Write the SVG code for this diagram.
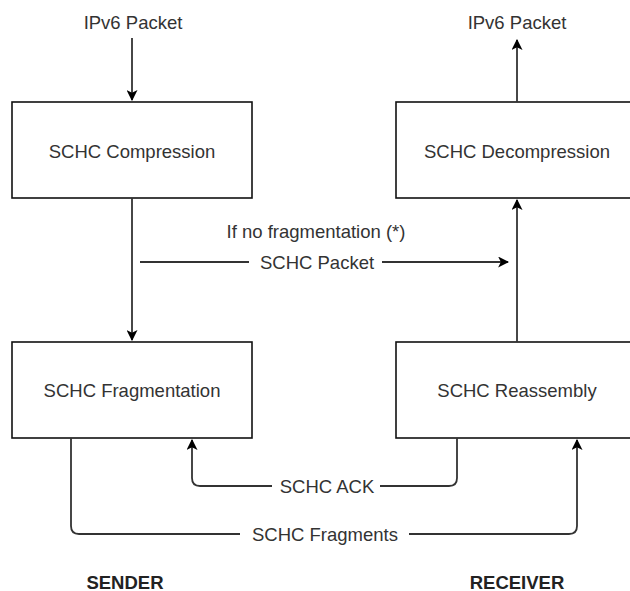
<svg xmlns="http://www.w3.org/2000/svg" width="630" height="591" viewBox="0 0 630 591">
<style>
.box{fill:#fff;stroke:#111;stroke-width:1.6}
.t{font-family:"Liberation Sans",Arial,sans-serif;font-size:18.5px;fill:#333;text-anchor:middle;dominant-baseline:central}
.b{font-weight:bold;fill:#222}
.c{fill:none;stroke:#333;stroke-width:1.8}
.bg{fill:#fff}
</style>
<defs>
<marker id="ah" viewBox="0 0 10 10" refX="9" refY="5" markerWidth="11" markerHeight="11" markerUnits="userSpaceOnUse" orient="auto">
<path d="M0,0 L10,5 L0,10 L2.5,5 Z" fill="#000"/>
</marker>
</defs>
<rect width="630" height="591" fill="#fff"/>
<g id="nodes">
<g id="compression"><rect class="box" x="12" y="102" width="240" height="96"/><text class="t" x="132" y="151">SCHC Compression</text></g>
<g id="decompression"><rect class="box" x="396" y="102" width="240" height="96"/><text class="t" x="517" y="151">SCHC Decompression</text></g>
<g id="fragmentation"><rect class="box" x="12" y="342" width="240" height="96"/><text class="t" x="132" y="390">SCHC Fragmentation</text></g>
<g id="reassembly"><rect class="box" x="396" y="342" width="240" height="96"/><text class="t" x="517" y="390">SCHC Reassembly</text></g>
</g>
<g id="connectors">
<path class="c" d="M132,38 V100" marker-end="url(#ah)"/>
<path class="c" d="M132,198 V340" marker-end="url(#ah)"/>
<path class="c" d="M517,342 V200" marker-end="url(#ah)"/>
<path class="c" d="M517,102 V40" marker-end="url(#ah)"/>
<path class="c" d="M140,262 H508" marker-end="url(#ah)"/>
<path class="c" d="M457,438 V478 Q457,486 449,486 H200 Q192,486 192,478 V440" marker-end="url(#ah)"/>
<path class="c" d="M71,438 V526 Q71,534 79,534 H569 Q577,534 577,526 V440" marker-end="url(#ah)"/>
<rect class="bg" x="249" y="250" width="133" height="24"/>
<rect class="bg" x="272" y="474" width="108" height="24"/>
<rect class="bg" x="240" y="522" width="169" height="24"/>
</g>
<g id="labels">
<text class="t" x="133" y="22">IPv6 Packet</text>
<text class="t" x="517" y="22">IPv6 Packet</text>
<text class="t" x="316" y="231">If no fragmentation (*)</text>
<text class="t" x="317" y="262">SCHC Packet</text>
<text class="t" x="327" y="486">SCHC ACK</text>
<text class="t" x="325" y="534">SCHC Fragments</text>
<text class="t b" x="125" y="582">SENDER</text>
<text class="t b" x="517" y="582">RECEIVER</text>
</g>
</svg>
